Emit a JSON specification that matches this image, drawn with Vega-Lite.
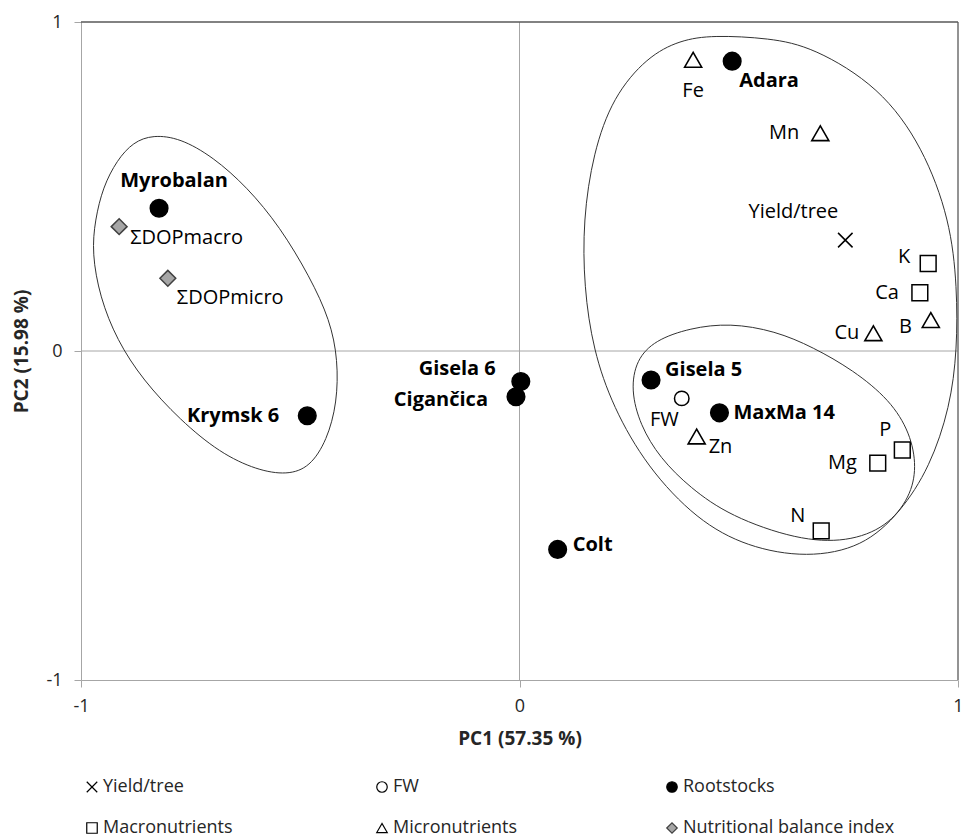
{
  "$schema": "https://vega.github.io/schema/vega-lite/v6.json",
  "width": 877,
  "height": 658,
  "autosize": {"type": "none"},
  "padding": {"left": 81, "top": 22, "right": 5, "bottom": 157},
  "background": "white",
  "config": {
    "view": {"stroke": null},
    "font": "Open Sans",
    "text": {"font": "Open Sans", "fontSize": 20, "baseline": "middle", "color": "#000000"}
  },
  "datasets": {
    "pts": [
      {"name": "Adara", "group": "Rootstocks", "x": 0.485, "y": 0.881},
      {"name": "Gisela 5", "group": "Rootstocks", "x": 0.300, "y": -0.088},
      {"name": "MaxMa 14", "group": "Rootstocks", "x": 0.456, "y": -0.188},
      {"name": "Colt", "group": "Rootstocks", "x": 0.087, "y": -0.603},
      {"name": "Gisela 6", "group": "Rootstocks", "x": 0.003, "y": -0.093},
      {"name": "Cigančica", "group": "Rootstocks", "x": -0.008, "y": -0.139},
      {"name": "Krymsk 6", "group": "Rootstocks", "x": -0.484, "y": -0.197},
      {"name": "Myrobalan", "group": "Rootstocks", "x": -0.822, "y": 0.434},
      {"name": "Yield/tree", "group": "Yield/tree", "x": 0.743, "y": 0.337},
      {"name": "FW", "group": "FW", "x": 0.370, "y": -0.144},
      {"name": "K", "group": "Macronutrients", "x": 0.932, "y": 0.266},
      {"name": "Ca", "group": "Macronutrients", "x": 0.913, "y": 0.177},
      {"name": "P", "group": "Macronutrients", "x": 0.873, "y": -0.301},
      {"name": "Mg", "group": "Macronutrients", "x": 0.817, "y": -0.341},
      {"name": "N", "group": "Macronutrients", "x": 0.688, "y": -0.547},
      {"name": "Fe", "group": "Micronutrients", "x": 0.396, "y": 0.885},
      {"name": "Mn", "group": "Micronutrients", "x": 0.686, "y": 0.662},
      {"name": "B", "group": "Micronutrients", "x": 0.938, "y": 0.094},
      {"name": "Cu", "group": "Micronutrients", "x": 0.807, "y": 0.054},
      {"name": "Zn", "group": "Micronutrients", "x": 0.404, "y": -0.260},
      {"name": "ΣDOPmacro", "group": "Nutritional balance index", "x": -0.913, "y": 0.378},
      {"name": "ΣDOPmicro", "group": "Nutritional balance index", "x": -0.802, "y": 0.221}
    ],
    "ell": [
      {"e": "L", "i": 1, "x": -0.975, "y": 0.298},
      {"e": "L", "i": 2, "x": -0.968, "y": 0.398},
      {"e": "L", "i": 3, "x": -0.950, "y": 0.498},
      {"e": "L", "i": 4, "x": -0.918, "y": 0.580},
      {"e": "L", "i": 5, "x": -0.881, "y": 0.635},
      {"e": "L", "i": 6, "x": -0.836, "y": 0.657},
      {"e": "L", "i": 7, "x": -0.774, "y": 0.647},
      {"e": "L", "i": 8, "x": -0.699, "y": 0.590},
      {"e": "L", "i": 9, "x": -0.621, "y": 0.498},
      {"e": "L", "i": 10, "x": -0.546, "y": 0.377},
      {"e": "L", "i": 11, "x": -0.478, "y": 0.225},
      {"e": "L", "i": 12, "x": -0.432, "y": 0.094},
      {"e": "L", "i": 13, "x": -0.414, "y": -0.027},
      {"e": "L", "i": 14, "x": -0.416, "y": -0.158},
      {"e": "L", "i": 15, "x": -0.439, "y": -0.271},
      {"e": "L", "i": 16, "x": -0.478, "y": -0.353},
      {"e": "L", "i": 17, "x": -0.530, "y": -0.377},
      {"e": "L", "i": 18, "x": -0.599, "y": -0.362},
      {"e": "L", "i": 19, "x": -0.683, "y": -0.310},
      {"e": "L", "i": 20, "x": -0.774, "y": -0.210},
      {"e": "L", "i": 21, "x": -0.859, "y": -0.088},
      {"e": "L", "i": 22, "x": -0.918, "y": 0.033},
      {"e": "L", "i": 23, "x": -0.957, "y": 0.164},
      {"e": "O", "i": 1, "x": 0.441, "y": 0.960},
      {"e": "O", "i": 2, "x": 0.571, "y": 0.951},
      {"e": "O", "i": 3, "x": 0.669, "y": 0.924},
      {"e": "O", "i": 4, "x": 0.822, "y": 0.802},
      {"e": "O", "i": 5, "x": 0.920, "y": 0.620},
      {"e": "O", "i": 6, "x": 0.982, "y": 0.398},
      {"e": "O", "i": 7, "x": 0.998, "y": 0.195},
      {"e": "O", "i": 8, "x": 0.998, "y": 0.003},
      {"e": "O", "i": 9, "x": 0.982, "y": -0.170},
      {"e": "O", "i": 10, "x": 0.936, "y": -0.353},
      {"e": "O", "i": 11, "x": 0.868, "y": -0.492},
      {"e": "O", "i": 12, "x": 0.783, "y": -0.596},
      {"e": "O", "i": 13, "x": 0.656, "y": -0.629},
      {"e": "O", "i": 14, "x": 0.519, "y": -0.596},
      {"e": "O", "i": 15, "x": 0.405, "y": -0.514},
      {"e": "O", "i": 16, "x": 0.291, "y": -0.353},
      {"e": "O", "i": 17, "x": 0.213, "y": -0.170},
      {"e": "O", "i": 18, "x": 0.168, "y": 0.003},
      {"e": "O", "i": 19, "x": 0.147, "y": 0.195},
      {"e": "O", "i": 20, "x": 0.145, "y": 0.398},
      {"e": "O", "i": 21, "x": 0.168, "y": 0.602},
      {"e": "O", "i": 22, "x": 0.213, "y": 0.772},
      {"e": "O", "i": 23, "x": 0.291, "y": 0.894},
      {"e": "O", "i": 24, "x": 0.366, "y": 0.945},
      {"e": "I", "i": 1, "x": 0.480, "y": 0.085},
      {"e": "I", "i": 2, "x": 0.583, "y": 0.061},
      {"e": "I", "i": 3, "x": 0.669, "y": 0.012},
      {"e": "I", "i": 4, "x": 0.761, "y": -0.058},
      {"e": "I", "i": 5, "x": 0.845, "y": -0.149},
      {"e": "I", "i": 6, "x": 0.891, "y": -0.249},
      {"e": "I", "i": 7, "x": 0.906, "y": -0.353},
      {"e": "I", "i": 8, "x": 0.891, "y": -0.444},
      {"e": "I", "i": 9, "x": 0.838, "y": -0.535},
      {"e": "I", "i": 10, "x": 0.747, "y": -0.581},
      {"e": "I", "i": 11, "x": 0.633, "y": -0.574},
      {"e": "I", "i": 12, "x": 0.480, "y": -0.502},
      {"e": "I", "i": 13, "x": 0.389, "y": -0.416},
      {"e": "I", "i": 14, "x": 0.320, "y": -0.325},
      {"e": "I", "i": 15, "x": 0.275, "y": -0.225},
      {"e": "I", "i": 16, "x": 0.254, "y": -0.119},
      {"e": "I", "i": 17, "x": 0.266, "y": -0.027},
      {"e": "I", "i": 18, "x": 0.309, "y": 0.033},
      {"e": "I", "i": 19, "x": 0.389, "y": 0.070}
    ]
  },
  "layer": [
    {
      "data": {"values": [{}]},
      "mark": {"type": "rule", "color": "#a6a6a6", "strokeWidth": 1},
      "encoding": {"x": {"datum": 0, "type": "quantitative"}}
    },
    {
      "data": {"values": [{}]},
      "mark": {"type": "rule", "color": "#a6a6a6", "strokeWidth": 1},
      "encoding": {"y": {"datum": 0, "type": "quantitative"}}
    },
    {
      "data": {"values": [{}]},
      "mark": {"type": "rule", "color": "#595959", "strokeWidth": 1.3},
      "encoding": {"x": {"datum": 1, "type": "quantitative"}}
    },
    {
      "data": {"values": [{}]},
      "mark": {"type": "rule", "color": "#595959", "strokeWidth": 1.3},
      "encoding": {"y": {"datum": 1, "type": "quantitative"}}
    },
    {
      "data": {"name": "ell"},
      "mark": {"type": "line", "interpolate": "basis-closed", "color": "#333333", "strokeWidth": 1},
      "encoding": {
        "x": {"field": "x", "type": "quantitative", "scale": {"domain": [-1, 1], "nice": false, "zero": false},
          "axis": {"values": [-1, 0, 1], "labelExpr": "'' + datum.value", "title": "PC1 (57.35 %)", "grid": false, "domainColor": "#a6a6a6", "tickColor": "#a6a6a6", "tickSize": 7, "labelFlush": false, "labelOverlap": false, "labelFont": "Open Sans", "labelFontSize": 18, "labelColor": "#262626", "labelPadding": 10, "titleFont": "Open Sans", "titleFontSize": 19, "titleFontWeight": "bold", "titleColor": "#262626", "titlePadding": 14}},
        "y": {"field": "y", "type": "quantitative", "scale": {"domain": [-1, 1], "nice": false, "zero": false},
          "axis": {"values": [-1, 0, 1], "labelExpr": "'' + datum.value", "title": "PC2  (15.98 %)", "grid": false, "domainColor": "#a6a6a6", "tickColor": "#a6a6a6", "tickSize": 7, "labelFlush": false, "labelOverlap": false, "labelFont": "Open Sans", "labelFontSize": 18, "labelColor": "#262626", "labelPadding": 12, "titleFont": "Open Sans", "titleFontSize": 19, "titleFontWeight": "bold", "titleColor": "#262626", "titlePadding": 14}},
        "detail": {"field": "e", "type": "nominal"},
        "order": {"field": "i", "type": "quantitative"}
      }
    },
    {
      "data": {"name": "pts"},
      "encoding": {
        "x": {"field": "x", "type": "quantitative"},
        "y": {"field": "y", "type": "quantitative"},
        "text": {"field": "name", "type": "nominal"}
      },
      "layer": [
        {
          "encoding": {
            "shape": {"field": "group", "type": "nominal",
              "scale": {"domain": ["Yield/tree", "FW", "Rootstocks", "Macronutrients", "Micronutrients", "Nutritional balance index"], "range": ["M-1,-1L1,1M-1,1L1,-1", "circle", "circle", "square", "triangle-up", "diamond"]},
              "legend": {"title": null, "orient": "none", "legendX": 2, "legendY": 756, "direction": "horizontal", "columns": 3, "columnPadding": 58, "rowPadding": 23, "gridAlign": "all", "symbolSize": 110, "symbolStrokeWidth": 1.2, "labelOffset": 2, "labelFont": "Open Sans", "labelFontSize": 18, "labelColor": "#262626", "labelLimit": 400, "padding": 0}},
            "fill": {"field": "group", "type": "nominal",
              "scale": {"domain": ["Yield/tree", "FW", "Rootstocks", "Macronutrients", "Micronutrients", "Nutritional balance index"], "range": ["#ffffff", "#ffffff", "#000000", "#ffffff", "#ffffff", "#a6a6a6"]},
              "legend": {"title": null, "orient": "none", "legendX": 2, "legendY": 756, "direction": "horizontal", "columns": 3, "columnPadding": 58, "rowPadding": 23, "gridAlign": "all", "symbolSize": 110, "symbolStrokeWidth": 1.2, "labelOffset": 2, "labelFont": "Open Sans", "labelFontSize": 18, "labelColor": "#262626", "labelLimit": 400, "padding": 0}},
            "stroke": {"field": "group", "type": "nominal",
              "scale": {"domain": ["Yield/tree", "FW", "Rootstocks", "Macronutrients", "Micronutrients", "Nutritional balance index"], "range": ["#000000", "#000000", "#000000", "#000000", "#000000", "#404040"]},
              "legend": {"title": null, "orient": "none", "legendX": 2, "legendY": 756, "direction": "horizontal", "columns": 3, "columnPadding": 58, "rowPadding": 23, "gridAlign": "all", "symbolSize": 110, "symbolStrokeWidth": 1.2, "labelOffset": 2, "labelFont": "Open Sans", "labelFontSize": 18, "labelColor": "#262626", "labelLimit": 400, "padding": 0}}
          },
          "layer": [
            {"transform": [{"filter": {"field": "group", "equal": "Rootstocks"}}], "mark": {"type": "point", "filled": true, "opacity": 1, "strokeWidth": 1.5, "size": 310}},
            {"transform": [{"filter": {"field": "group", "equal": "Micronutrients"}}], "mark": {"type": "point", "filled": true, "opacity": 1, "strokeWidth": 1.6, "size": 290}},
            {"transform": [{"filter": {"field": "group", "oneOf": ["Macronutrients", "Nutritional balance index"]}}], "mark": {"type": "point", "filled": true, "opacity": 1, "strokeWidth": 1.5, "size": 250}},
            {"transform": [{"filter": {"field": "group", "oneOf": ["Yield/tree", "FW"]}}], "mark": {"type": "point", "filled": true, "opacity": 1, "strokeWidth": 1.5, "size": 210}}
          ]
        },
        {"transform": [{"filter": {"field": "name", "equal": "Adara"}}], "mark": {"type": "text", "align": "left", "dx": 7, "dy": 20, "fontWeight": "bold"}},
        {"transform": [{"filter": {"field": "name", "equal": "Fe"}}], "mark": {"type": "text", "align": "center", "dx": 0, "dy": 31}},
        {"transform": [{"filter": {"field": "name", "oneOf": ["Mn", "Ca", "Mg"]}}], "mark": {"type": "text", "align": "right", "dx": -21, "dy": 0}},
        {"transform": [{"filter": {"field": "name", "equal": "Yield/tree"}}], "mark": {"type": "text", "align": "right", "dx": -7, "dy": -28}},
        {"transform": [{"filter": {"field": "name", "equal": "K"}}], "mark": {"type": "text", "align": "right", "dx": -18, "dy": -6}},
        {"transform": [{"filter": {"field": "name", "equal": "B"}}], "mark": {"type": "text", "align": "right", "dx": -19, "dy": 7}},
        {"transform": [{"filter": {"field": "name", "equal": "Cu"}}], "mark": {"type": "text", "align": "right", "dx": -14, "dy": 0}},
        {"transform": [{"filter": {"field": "name", "equal": "Gisela 5"}}], "mark": {"type": "text", "align": "left", "dx": 14, "dy": -10, "fontWeight": "bold"}},
        {"transform": [{"filter": {"field": "name", "equal": "FW"}}], "mark": {"type": "text", "align": "right", "dx": -3, "dy": 22}},
        {"transform": [{"filter": {"field": "name", "equal": "MaxMa 14"}}], "mark": {"type": "text", "align": "left", "dx": 14, "dy": 0, "fontWeight": "bold"}},
        {"transform": [{"filter": {"field": "name", "equal": "Zn"}}], "mark": {"type": "text", "align": "left", "dx": 12, "dy": 10}},
        {"transform": [{"filter": {"field": "name", "equal": "P"}}], "mark": {"type": "text", "align": "right", "dx": -11, "dy": -20}},
        {"transform": [{"filter": {"field": "name", "equal": "N"}}], "mark": {"type": "text", "align": "right", "dx": -16, "dy": -15}},
        {"transform": [{"filter": {"field": "name", "equal": "Colt"}}], "mark": {"type": "text", "align": "left", "dx": 15, "dy": -4, "fontWeight": "bold"}},
        {"transform": [{"filter": {"field": "name", "equal": "Gisela 6"}}], "mark": {"type": "text", "align": "right", "dx": -25, "dy": -13, "fontWeight": "bold"}},
        {"transform": [{"filter": {"field": "name", "equal": "Cigančica"}}], "mark": {"type": "text", "align": "right", "dx": -28, "dy": 3, "fontWeight": "bold"}},
        {"transform": [{"filter": {"field": "name", "equal": "Krymsk 6"}}], "mark": {"type": "text", "align": "right", "dx": -28, "dy": 0, "fontWeight": "bold"}},
        {"transform": [{"filter": {"field": "name", "equal": "Myrobalan"}}], "mark": {"type": "text", "align": "center", "dx": 15, "dy": -27, "fontWeight": "bold"}},
        {"transform": [{"filter": {"field": "name", "equal": "ΣDOPmacro"}}], "mark": {"type": "text", "align": "left", "dx": 11, "dy": 11}},
        {"transform": [{"filter": {"field": "name", "equal": "ΣDOPmicro"}}], "mark": {"type": "text", "align": "left", "dx": 9, "dy": 20}}
      ]
    }
  ]
}
